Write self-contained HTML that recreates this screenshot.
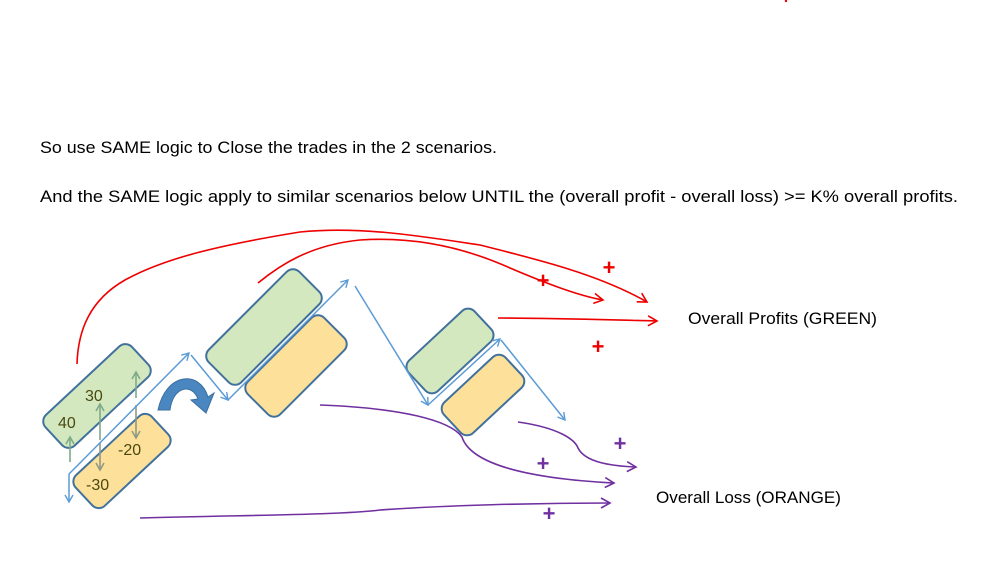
<!DOCTYPE html>
<html><head><meta charset="utf-8"><style>html,body{margin:0;padding:0;background:#fff}svg{display:block}</style></head>
<body>
<svg width="982" height="575" viewBox="0 0 982 575" xmlns="http://www.w3.org/2000/svg" font-family="Liberation Sans, sans-serif">
<defs>
<marker id="ab" markerWidth="10" markerHeight="10" refX="8" refY="5" orient="auto" markerUnits="userSpaceOnUse"><path d="M1,1 L8,5 L1,9" fill="none" stroke="#5b9bd5" stroke-width="1.4"/></marker>
<marker id="ar" markerWidth="12" markerHeight="12" refX="10" refY="6" orient="auto" markerUnits="userSpaceOnUse"><path d="M1,1 L10,6 L1,11" fill="none" stroke="#e00" stroke-width="1.6"/></marker>
<marker id="ap" markerWidth="12" markerHeight="12" refX="10" refY="6" orient="auto" markerUnits="userSpaceOnUse"><path d="M1,1 L10,6 L1,11" fill="none" stroke="#7030a0" stroke-width="1.6"/></marker>
<marker id="ag" markerWidth="10" markerHeight="10" refX="8" refY="5" orient="auto" markerUnits="userSpaceOnUse"><path d="M1,1 L8,5 L1,9" fill="none" stroke="#7fa98a" stroke-width="1.6"/></marker>
<marker id="agr" markerWidth="10" markerHeight="10" refX="8" refY="5" orient="auto" markerUnits="userSpaceOnUse"><path d="M1,1 L8,5 L1,9" fill="none" stroke="#8f9a84" stroke-width="1.6"/></marker>
</defs>
<circle cx="786" cy="1" r="1.2" fill="#e00"/>
<text x="40" y="153" font-size="16.5" fill="#000" textLength="457" lengthAdjust="spacingAndGlyphs">So use SAME logic to Close the trades in the 2 scenarios.</text>
<text x="40" y="202" font-size="16.5" fill="#000" textLength="918" lengthAdjust="spacingAndGlyphs">And the SAME logic apply to similar scenarios below UNTIL the (overall profit - overall loss) &gt;= K% overall profits.</text>
<text x="688" y="324" font-size="16.5" fill="#000" textLength="189" lengthAdjust="spacingAndGlyphs">Overall Profits (GREEN)</text>
<text x="656" y="503" font-size="16.5" fill="#000" textLength="185" lengthAdjust="spacingAndGlyphs">Overall Loss (ORANGE)</text>

<g stroke="#41719c" stroke-width="2">
<rect x="-59" y="-21" width="118" height="42" rx="9" fill="#d3e8bf" transform="translate(97,396) rotate(-43)"/>
<rect x="-52" y="-21" width="104" height="42" rx="9" fill="#fde19a" transform="translate(122,461) rotate(-43)"/>
<rect x="-64" y="-23" width="128" height="46" rx="9" fill="#d3e8bf" transform="translate(264,327) rotate(-45)"/>
<rect x="-54" y="-23" width="108" height="46" rx="9" fill="#fde19a" transform="translate(296,366) rotate(-45)"/>
<rect x="-45" y="-21" width="90" height="42" rx="9" fill="#d3e8bf" transform="translate(450,351) rotate(-43)"/>
<rect x="-42" y="-21" width="84" height="42" rx="9" fill="#fde19a" transform="translate(483,395) rotate(-43)"/>
</g>
<g font-size="16" fill="#4a4a10">
<text x="58" y="428">40</text><text x="85" y="401">30</text>
<text x="118" y="455">-20</text><text x="86" y="490">-30</text>
</g>
<g stroke-width="1.6" fill="none">
<line x1="70" y1="462" x2="70" y2="437" stroke="#7fa98a" marker-end="url(#ag)"/>
<line x1="100" y1="440" x2="100" y2="404" stroke="#7fa98a" marker-end="url(#ag)"/>
<line x1="136" y1="398" x2="136" y2="372" stroke="#7fa98a" marker-end="url(#ag)"/>
<line x1="100" y1="443" x2="100" y2="470" stroke="#8f9a84" marker-end="url(#agr)"/>
<line x1="136" y1="405" x2="136" y2="438" stroke="#8f9a84" marker-end="url(#agr)"/>
</g>
<g stroke="#5b9bd5" stroke-width="1.5" fill="none">
<line x1="69" y1="474" x2="69" y2="502" marker-end="url(#ab)"/>
<line x1="69" y1="474" x2="189" y2="353" marker-end="url(#ab)"/>
<line x1="191" y1="355" x2="228" y2="400" marker-end="url(#ab)"/>
<line x1="228" y1="400" x2="348" y2="280" marker-end="url(#ab)"/>
<line x1="355" y1="286" x2="428" y2="405" marker-end="url(#ab)"/>
<line x1="428" y1="405" x2="500" y2="339" marker-end="url(#ab)"/>
<line x1="501" y1="340" x2="565" y2="420" marker-end="url(#ab)"/>
</g>
<path d="M158,410 C166,372 200,370 208,397 L214,393 L206,413 L191,400 L198,399 C192,383 173,386 170,410 Z" fill="#4a86c0" stroke="#3a6fa0" stroke-width="1"/>
<g stroke="#e00" stroke-width="1.6" fill="none">
<path d="M77,364 C78,330 90,300 125,280 C165,258 220,245 300,232 C360,226 420,236 480,245 C540,260 600,275 647,302" marker-end="url(#ar)"/>
<path d="M258,283 C280,265 310,245 360,240 C420,236 470,250 510,268 C550,285 580,296 603,300" marker-end="url(#ar)"/>
<path d="M498,318 C560,318 610,320 657,321" marker-end="url(#ar)"/>
</g>
<g stroke="#7030a0" stroke-width="1.6" fill="none">
<path d="M320,405 C400,408 450,420 462,437 C470,462 520,478 614,483" marker-end="url(#ap)"/>
<path d="M518,422 C560,428 575,440 578,448 C585,462 610,466 636,467" marker-end="url(#ap)"/>
<path d="M140,518 C250,515 340,515 380,510 C450,505 540,503 610,503" marker-end="url(#ap)"/>
</g>
<g font-size="22" font-weight="bold" text-anchor="middle">
<text x="543" y="288" fill="#e00">+</text><text x="609" y="275" fill="#e00">+</text><text x="598" y="354" fill="#e00">+</text>
<text x="620" y="451" fill="#7030a0">+</text><text x="543" y="471" fill="#7030a0">+</text><text x="549" y="521" fill="#7030a0">+</text>
</g>
</svg>
</body></html>
